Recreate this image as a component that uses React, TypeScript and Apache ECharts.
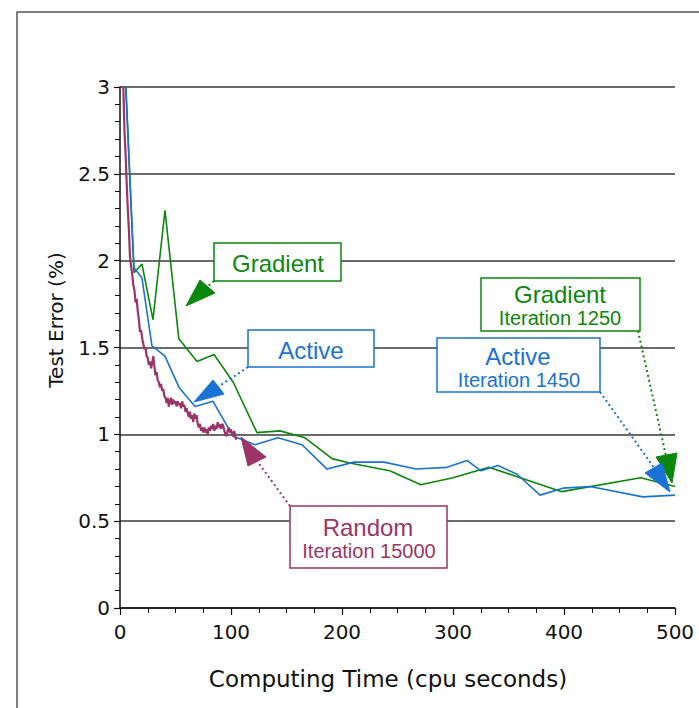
import React, { useEffect, useRef } from "react";
import * as echarts from "echarts";

const gradientX = [4, 12.6, 19.8, 29.7, 40.5, 53, 69.4, 84.7, 102, 123.4, 144, 166.7, 191, 207, 243, 271, 300, 332.4, 398, 469, 500];
const gradientY = [3.2, 1.93, 1.98, 1.66, 2.29, 1.55, 1.42, 1.46, 1.3, 1.01, 1.02, 0.98, 0.86, 0.835, 0.79, 0.71, 0.75, 0.81, 0.67, 0.75, 0.7];

const activeX = [4, 12.6, 19.8, 28.8, 40.5, 53.2, 67.6, 83.8, 101.8, 121.6, 142.3, 164, 186.5, 210.8, 237.8, 266.7, 294.6, 312.6, 325.2, 340.5, 357.7, 378.4, 399, 423.4, 471, 500];
const activeY = [3.15, 1.96, 1.9, 1.51, 1.45, 1.27, 1.16, 1.19, 0.99, 0.94, 0.98, 0.94, 0.8, 0.84, 0.84, 0.8, 0.81, 0.85, 0.79, 0.82, 0.77, 0.65, 0.69, 0.7, 0.64, 0.65];

const randomX = [2, 3, 4, 5, 6, 7, 8, 9, 10, 11, 12, 13, 14, 15, 16, 17, 18, 19, 20, 21, 22, 23, 24, 25, 26, 27, 28, 29, 30, 31, 32, 33, 34, 35, 36, 37, 38, 39, 40, 41, 42, 43, 44, 45, 46, 47, 48, 49, 50, 51, 52, 53, 54, 55, 56, 57, 58, 59, 60, 61, 62, 63, 64, 65, 66, 67, 68, 69, 70, 71, 72, 73, 74, 75, 76, 77, 78, 79, 80, 81, 82, 83, 84, 85, 86, 87, 88, 89, 90, 91, 92, 93, 94, 95, 96, 97, 98, 99, 100, 101, 102, 103, 104, 105];
const randomY = [3.25, 3.0, 2.75, 2.62, 2.45, 2.3, 2.18, 2.02, 1.97, 1.92, 1.86, 1.83, 1.76, 1.78, 1.71, 1.66, 1.59, 1.6, 1.55, 1.52, 1.49, 1.5, 1.45, 1.44, 1.4, 1.42, 1.38, 1.41, 1.45, 1.39, 1.34, 1.36, 1.31, 1.3, 1.27, 1.29, 1.25, 1.26, 1.22, 1.21, 1.18, 1.21, 1.16, 1.19, 1.21, 1.17, 1.2, 1.18, 1.19, 1.16, 1.19, 1.17, 1.18, 1.15, 1.19, 1.16, 1.17, 1.13, 1.15, 1.12, 1.1, 1.13, 1.09, 1.11, 1.07, 1.12, 1.09, 1.11, 1.06, 1.04, 1.06, 1.02, 1.04, 1.01, 1.04, 1.01, 1.03, 1.0, 1.04, 1.02, 1.05, 1.03, 1.06, 1.02, 1.05, 1.03, 1.07, 1.04, 1.06, 1.03, 1.06, 1.05, 1.02, 1.0, 0.99, 1.02, 1.04, 1.01, 1.03, 1.0, 0.99, 1.02, 0.98, 0.97];

const yTicks = ["0", "0.5", "1", "1.5", "2", "2.5", "3"];

const GREEN = "#0b870b";
const BLUE = "#1a72d4";
const MAROON = "#9b3467";

const zip = (xs: number[], ys: number[]) => xs.map((x, i) => [x, ys[i]]);

export default function App() {
  const ref = useRef<HTMLDivElement>(null);
  useEffect(() => {
    if (!ref.current) return;
    const chart = echarts.init(ref.current, null, { renderer: "svg" });
    const axFont = "DejaVu Sans";
    const anFont = "Liberation Sans";
    const box = (x: number, y: number, w: number, h: number, color: string) => ({
      type: "rect",
      z: 100,
      shape: { x, y, width: w, height: h },
      style: { fill: "#fff", stroke: color, lineWidth: 1.5 },
    });
    const txt = (x: number, y: number, text: string, size: number, color: string) => ({
      type: "text",
      z: 101,
      x,
      y,
      style: { text, fill: color, font: `${size}px "${anFont}"`, align: "center", verticalAlign: "middle" },
    });
    const tri = (pts: number[][], color: string) => ({
      type: "polygon",
      z: 102,
      shape: { points: pts },
      style: { fill: color, stroke: color, lineWidth: 1 },
    });
    const dot = (x1: number, y1: number, x2: number, y2: number, color: string) => ({
      type: "line",
      z: 99,
      shape: { x1, y1, x2, y2 },
      style: { stroke: color, lineWidth: 2, lineDash: [2, 3] },
    });
    chart.setOption({
      animation: false,
      backgroundColor: "#fff",
      grid: { left: 120, right: 24, top: 87, bottom: 100, containLabel: false },
      xAxis: {
        type: "value",
        min: 0,
        max: 500,
        interval: 100,
        axisLine: { show: true, lineStyle: { color: "#111", width: 1.5 } },
        axisTick: { show: true, length: 7, lineStyle: { color: "#111", width: 1.2 } },
        minorTick: { show: true, splitNumber: 4, length: 5, lineStyle: { color: "#111", width: 1 } },
        splitLine: { show: false },
        axisLabel: { fontSize: 20, color: "#111", fontFamily: axFont, margin: 14 },
      },
      yAxis: {
        type: "value",
        min: 0,
        max: 3,
        interval: 0.5,
        axisLine: { show: true, lineStyle: { color: "#111", width: 1.5 } },
        axisTick: { show: true, length: 6, lineStyle: { color: "#111", width: 1.2 } },
        minorTick: { show: true, splitNumber: 5, length: 5, lineStyle: { color: "#111", width: 1 } },
        splitLine: { show: true, lineStyle: { color: "#3a3a3a", width: 1.5 } },
        axisLabel: {
          fontSize: 20,
          color: "#111",
          fontFamily: axFont,
          margin: 10,
          formatter: (v: number) => yTicks[Math.round(v * 2)] ?? String(v),
        },
      },
      series: [
        {
          type: "line",
          data: zip(gradientX, gradientY),
          showSymbol: false,
          clip: true,
          lineStyle: { color: GREEN, width: 1.6 },
          z: 3,
        },
        {
          type: "line",
          data: zip(activeX, activeY),
          showSymbol: false,
          clip: true,
          lineStyle: { color: BLUE, width: 1.6 },
          z: 4,
        },
        {
          type: "line",
          data: zip(randomX, randomY),
          showSymbol: false,
          clip: true,
          lineStyle: { color: MAROON, width: 2.2 },
          z: 5,
        },
      ],
      graphic: [
        {
          type: "rect",
          z: 0,
          silent: true,
          shape: { x: 17, y: 12, width: 720, height: 720 },
          style: { fill: "none", stroke: "#555", lineWidth: 1.5 },
        },
        {
          type: "text",
          x: 388,
          y: 679,
          style: { text: "Computing Time (cpu seconds)", font: `23px "${axFont}"`, fill: "#111", align: "center", verticalAlign: "middle" },
        },
        {
          type: "text",
          x: 56,
          y: 320,
          rotation: Math.PI / 2,
          style: { text: "Test Error (%)", font: `20px "${axFont}"`, fill: "#111", align: "center", verticalAlign: "middle" },
        },
        // Gradient (left)
        dot(214, 281, 207, 287, GREEN),
        box(214, 243, 127, 38, GREEN),
        txt(278, 263, "Gradient", 24, GREEN),
        tri([[186, 306], [200, 280], [215, 293]], GREEN),
        // Active (left)
        dot(248, 367, 218, 387, BLUE),
        box(248, 330, 126, 37, BLUE),
        txt(311, 350, "Active", 24, BLUE),
        tri([[194, 402], [213, 380], [224, 394]], BLUE),
        // Random
        dot(290, 506, 257, 461, MAROON),
        box(290, 506, 157, 62, MAROON),
        txt(368, 527, "Random", 24, MAROON),
        txt(369, 551, "Iteration 15000", 20, MAROON),
        tri([[241, 437], [248, 466], [266, 457]], MAROON),
        // Gradient (right)
        dot(638, 331, 666, 456, GREEN),
        box(481, 278, 159, 53, GREEN),
        txt(560, 294, "Gradient", 24, GREEN),
        txt(560, 318, "Iteration 1250", 20, GREEN),
        tri([[656, 457], [677, 453], [672, 483]], GREEN),
        // Active (right)
        dot(600, 392, 655, 469, BLUE),
        box(437, 338, 163, 54, BLUE),
        txt(518, 356, "Active", 24, BLUE),
        txt(519, 380, "Iteration 1450", 20, BLUE),
        tri([[645, 473], [662, 463], [670, 492]], BLUE),
      ],
    });
    return () => chart.dispose();
  }, []);
  return (
    <div
      ref={ref}
      style={{ position: "fixed", left: 0, top: 0, width: 699, height: 708, background: "#fff" }}
    />
  );
}
